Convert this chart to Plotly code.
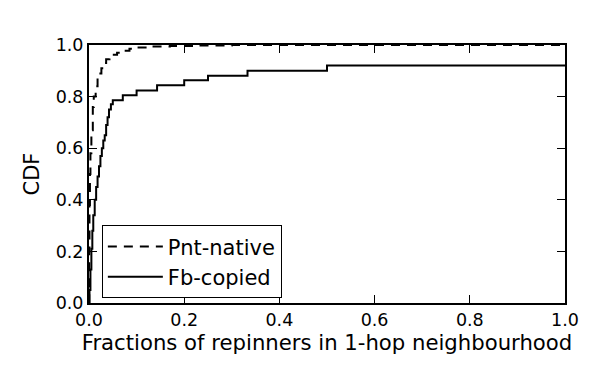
import plotly.graph_objects as go

# CDF of fraction of repinners in 1-hop neighbourhood
pnt_x = [0.0, 0.0005, 0.001, 0.002, 0.003, 0.005, 0.008, 0.010, 0.014, 0.018, 0.021, 0.026,
         0.030, 0.036, 0.043, 0.050, 0.059, 0.070, 0.085, 0.100, 0.130, 0.170, 0.230, 0.300, 1.0]
pnt_y = [0.0, 0.20, 0.38, 0.50, 0.58, 0.67, 0.76, 0.80, 0.84, 0.87, 0.89, 0.91,
         0.93, 0.945, 0.955, 0.962, 0.970, 0.978, 0.985, 0.990, 0.994, 0.996, 0.998, 1.0, 1.0]

fb_x = [0.0, 0.001, 0.003, 0.005, 0.007, 0.009, 0.012, 0.015, 0.018, 0.021, 0.024, 0.027,
        0.030, 0.033, 0.036, 0.039, 0.042, 0.046, 0.050, 0.071, 0.100, 0.143, 0.200,
        0.250, 0.333, 0.500, 1.0]
fb_y = [0.0, 0.05, 0.13, 0.21, 0.28, 0.34, 0.40, 0.45, 0.49, 0.53, 0.57, 0.60,
        0.63, 0.65, 0.69, 0.72, 0.75, 0.77, 0.786, 0.805, 0.824, 0.844, 0.863,
        0.881, 0.900, 0.921, 0.921]

ticks = [0.0, 0.2, 0.4, 0.6, 0.8, 1.0]

fig = go.Figure()
fig.add_trace(go.Scatter(x=pnt_x, y=pnt_y, mode='lines', name='Pnt-native',
                         line=dict(color='black', width=2, dash='9px,7px', shape='hv')))
fig.add_trace(go.Scatter(x=fb_x, y=fb_y, mode='lines', name='Fb-copied',
                         line=dict(color='black', width=2, shape='hv')))

axis_style = dict(
    range=[0, 1], tickvals=ticks, tickformat='.1f',
    showline=True, linecolor='black', linewidth=2, mirror='ticks',
    ticks='inside', ticklen=8, tickwidth=1, tickcolor='black',
    showgrid=False, zeroline=False,
    tickfont=dict(size=17.5, color='black'),
)

# the page body has an 8px margin, so the figure is a bit smaller and shifted
fig.update_layout(
    width=590, height=362,
    margin=dict(l=81, r=33, t=37, b=67),
    plot_bgcolor='white', paper_bgcolor='white',
    font=dict(family='DejaVu Sans', size=21, color='black'),
    xaxis=dict(axis_style, title=dict(text='Fractions of repinners in 1-hop neighbourhood',
                                      font=dict(size=21.2), standoff=4)),
    yaxis=dict(axis_style, title=dict(text='CDF', font=dict(size=21), standoff=10)),
    legend=dict(x=0.027, y=0.018, xanchor='left', yanchor='bottom',
                bordercolor='black', borderwidth=1, bgcolor='white',
                font=dict(size=21), tracegroupgap=0, itemwidth=55),
    showlegend=True,
)

fig.write_html("out.html")
